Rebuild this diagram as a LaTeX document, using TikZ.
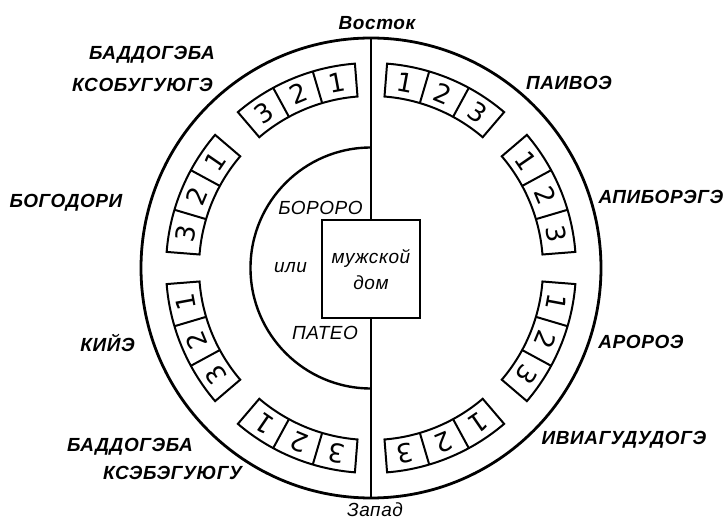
\documentclass[tikz,border=0pt]{standalone}
\usepackage{fontspec}
\setmainfont{Liberation Sans}
\newfontfamily\labfont[LetterSpace=3]{Liberation Sans}
\newfontfamily\digfont{DejaVu Sans}
\begin{document}
\begin{tikzpicture}[x=1pt,y=1pt,
  lab/.style={font=\labfont\bfseries\itshape\fontsize{19}{19}\selectfont, inner sep=0pt},
  ilab/.style={font=\labfont\itshape\fontsize{19}{19}\selectfont, inner sep=0pt},
  dig/.style={font=\digfont\fontsize{26}{26}\selectfont, inner sep=0pt},
  cellbox/.style={line width=2pt, line join=miter},
  ring/.style={line width=2.8pt},
  axis/.style={line width=2pt}]
\useasboundingbox (0,0) rectangle (723,522);
\begin{scope}[shift={(371,254)}]
  \draw[ring] (0,0) circle[radius=230];
  \draw[line width=2.4pt] (90:120.5) arc[start angle=90,end angle=270,radius=120.5];
  \node[draw, line width=2pt, minimum size=98pt, inner sep=0pt, align=center,
        font=\labfont\itshape\fontsize{19}{26}\selectfont] (house) at (0,-1.5) {мужской\\дом};
  \coordinate (top) at (90:230);
  \coordinate (bottom) at (270:230);
  \draw[axis] (top) -- (house.north);
  \draw[axis] (house.south) -- (bottom);
  \foreach \c/\s [count=\i] in {67.5/-1, 22.5/-1, -22.5/-1, -67.5/-1, 112.5/1, 157.5/1, 202.5/1, 247.5/1}{
    \pgfmathsetmacro\aa{\c-18}
    \pgfmathsetmacro\ab{\c+18}
    \pgfmathsetmacro\da{\c-6}
    \pgfmathsetmacro\db{\c+6}
    \draw[cellbox] (\aa:205) arc[start angle=\aa, end angle=\ab, radius=205]
       -- (\ab:172) arc[start angle=\ab, end angle=\aa, radius=172] -- cycle;
    \draw[cellbox] (\da:172) -- (\da:205) (\db:172) -- (\db:205);
    \foreach \k in {1,2,3}{
      \pgfmathsetmacro\ang{\c+(\s)*12*(\k-2)}
      \pgfmathsetmacro\rot{\ang-90}
      \node[dig, rotate=\rot] (d\i\k) at (\ang:188.5) {\k};
    }
  }
\end{scope}
\node[lab] (vostok) at (377,499) {Восток};
\node[ilab] (zapad) at (375,12) {Запад};
\node[lab, anchor=east] (l1a) at (215,467) {БАДДОГЭБА};
\node[lab, anchor=east] (l1b) at (213,437) {КСОБУГУЮГЭ};
\node[lab] (l2) at (66,319) {БОГОДОРИ};
\node[lab] (l3) at (107.5,179) {КИЙЭ};
\node[lab] (l4a) at (130,75) {БАДДОГЭБА};
\node[lab] (l4b) at (172.5,49) {КСЭБЭГУЮГУ};
\node[lab] (r1) at (569,439) {ПАИВОЭ};
\node[lab] (r2) at (661,325) {АПИБОРЭГЭ};
\node[lab] (r3) at (641,180) {АРОРОЭ};
\node[lab] (r4) at (624,82) {ИВИАГУДУДОГЭ};
\node[ilab] (bororo) at (320.5,314) {БОРОРО};
\node[ilab] (ili) at (290.5,254) {или};
\node[ilab] (pateo) at (325,189) {ПАТЕО};
\end{tikzpicture}
\end{document}
